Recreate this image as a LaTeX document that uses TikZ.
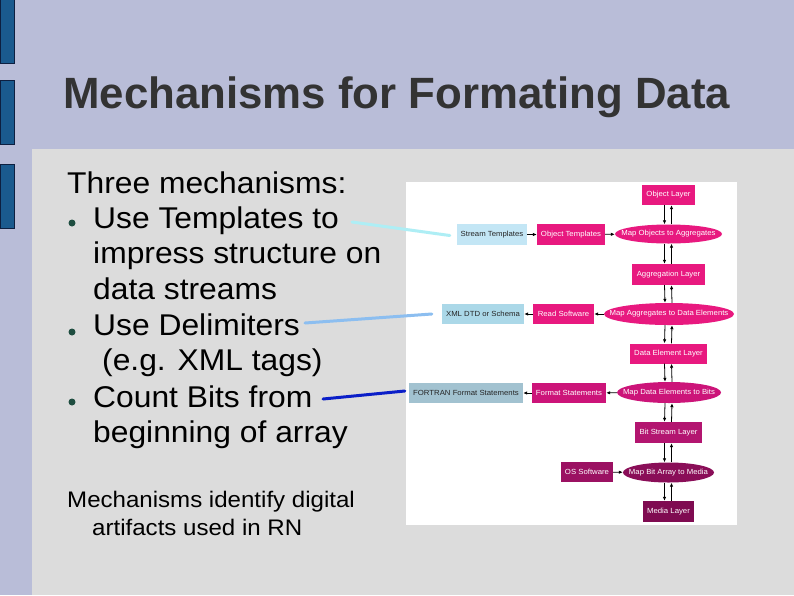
\documentclass[tikz,border=0pt]{standalone}
\usepackage{fontspec}
\setmainfont{Liberation Sans}
\newfontfamily\bodyfont[FakeStretch=1.06]{Liberation Sans}
\newfontfamily\smallfont[FakeStretch=1.07]{Liberation Sans}
\newfontfamily\diafont[FakeStretch=1.05]{Liberation Sans}
\usetikzlibrary{shapes.geometric,arrows.meta}
\definecolor{bgl}{HTML}{B9BDD8}
\definecolor{panel}{HTML}{DCDCDC}
\definecolor{barb}{HTML}{1A5A8E}
\definecolor{bard}{HTML}{0D1F40}
\definecolor{titlec}{HTML}{333333}
\definecolor{dotc}{HTML}{1E4D40}
\definecolor{pinkA}{HTML}{E8197F}
\definecolor{pinkB}{HTML}{CC1479}
\definecolor{pinkC}{HTML}{B31570}
\definecolor{pinkD}{HTML}{9B1162}
\definecolor{pinkE}{HTML}{8A0E58}
\definecolor{pinkF}{HTML}{7F0B51}
\definecolor{blueA}{HTML}{C3E6F5}
\definecolor{blueB}{HTML}{ABD8E8}
\definecolor{blueC}{HTML}{A2C2D0}
\definecolor{lnA}{HTML}{AEEEF5}
\definecolor{lnB}{HTML}{8CBEF0}
\definecolor{lnC}{HTML}{0A1EC8}
\tikzset{
  bodytext/.style={anchor=base west,inner sep=0pt,font=\bodyfont\fontsize{30}{35}\selectfont,text=black},
  smalltext/.style={anchor=base west,inner sep=0pt,font=\smallfont\fontsize{22.5}{26}\selectfont,text=black},
  bul/.style={fill=dotc,draw=none},
  dbox/.style={rectangle,inner sep=0pt,font=\diafont\fontsize{7.4}{8}\selectfont,text=white},
  dell/.style={ellipse,inner xsep=-30pt,inner ysep=0pt,font=\diafont\fontsize{7.4}{8}\selectfont,text=white},
  lbox/.style={rectangle,inner sep=0pt,font=\diafont\fontsize{7.4}{8}\selectfont,text=black!85},
  arr/.style={-{Latex[length=4pt,width=3.5pt]},line width=0.8pt,black},
  link/.style={line width=3pt,line cap=round}
}
\begin{document}
\begin{tikzpicture}[x=1pt,y=-1pt]
\useasboundingbox (0,0) rectangle (794,595);
\fill[bgl] (0,0) rectangle (794,595);
\fill[panel] (32,149) rectangle (794,595);
% left bars
\filldraw[fill=barb,draw=bard,line width=0.6pt] (0,-1) rectangle (14.5,63);
\filldraw[fill=barb,draw=bard,line width=0.6pt] (0,80) rectangle (14.5,144.5);
\filldraw[fill=barb,draw=bard,line width=0.6pt] (0,164.5) rectangle (14.5,228);
% title
\node[anchor=base west,inner sep=0pt,font=\fontsize{43.8}{50}\selectfont\bfseries,text=titlec] (title) at (63,108) {Mechanisms for Formating Data};
% body text
\node[bodytext] (l0) at (67,193) {Three mechanisms:};
\fill[bul] (72,223) circle (3.5);
\node[bodytext] (t1) at (93,228) {Use Templates to};
\node[bodytext] (t1b) at (93,263) {impress structure on};
\node[bodytext] (t1c) at (93,299) {data streams};
\fill[bul] (72,332) circle (3.5);
\node[bodytext] (t2) at (93,335) {Use Delimiters};
\node[bodytext] (t2b) at (102,370) {(e.g. XML tags)};
\fill[bul] (72,402) circle (3.5);
\node[bodytext] (t3) at (93,407) {Count Bits from};
\node[bodytext] (t3b) at (93,442) {beginning of array};
\node[smalltext] (s1) at (67,507) {Mechanisms identify digital};
\node[smalltext] (s2) at (92,535) {artifacts used in RN};
% white image
\fill[white] (406,182) rectangle (737,525);
% diagram nodes
\node[dbox,fill=pinkA,minimum width=53,minimum height=20] (objL) at (668.5,195) {Object Layer};
\node[lbox,fill=blueA,minimum width=70,minimum height=21] (stT) at (492,234.5) {Stream Templates};
\node[dbox,fill=pinkA,minimum width=68,minimum height=21] (objT) at (571,234.5) {Object Templates};
\node[dell,fill=pinkA,minimum width=107,minimum height=19] (mapOA) at (668.5,234) {Map Objects to Aggregates};
\node[dbox,fill=pinkA,minimum width=73,minimum height=21] (aggL) at (668.5,274.5) {Aggregation Layer};
\node[lbox,fill=blueB,minimum width=82,minimum height=20] (xml) at (483,314) {XML DTD or Schema};
\node[dbox,fill=pinkA,minimum width=61,minimum height=20] (readS) at (563.5,314) {Read Software};
\node[dell,fill=pinkA,minimum width=130,minimum height=22] (mapAD) at (669,314) {Map Aggregates to Data Elements};
\node[dbox,fill=pinkA,minimum width=77,minimum height=20] (deL) at (668.5,353.5) {Data Element Layer};
\node[lbox,fill=blueC,minimum width=114,minimum height=20] (fortran) at (466,393) {FORTRAN Format Statements};
\node[dbox,fill=pinkB,minimum width=74,minimum height=20] (fmtS) at (569,393) {Format Statements};
\node[dell,fill=pinkB,minimum width=104,minimum height=21] (mapDB) at (669,392.5) {Map Data Elements to Bits};
\node[dbox,fill=pinkC,minimum width=67,minimum height=21] (bsL) at (668.5,432.5) {Bit Stream Layer};
\node[dbox,fill=pinkD,minimum width=52,minimum height=20] (osS) at (587,472) {OS Software};
\node[dell,fill=pinkE,minimum width=91,minimum height=20] (mapBM) at (668.5,472.5) {Map Bit Array to Media};
\node[dbox,fill=pinkF,minimum width=51,minimum height=21] (mediaL) at (668.5,511.5) {Media Layer};
% vertical arrow pairs
\foreach \a/\b in {objL/mapOA,mapOA/aggL,aggL/mapAD,mapAD/deL,deL/mapDB,mapDB/bsL,bsL/mapBM,mapBM/mediaL}{
  \draw[arr] ([xshift=-4pt]\a.south) -- ([xshift=-4pt]\b.north);
  \draw[arr] ([xshift=3pt]\b.north) -- ([xshift=3pt]\a.south);
}
% horizontal arrows
\draw[arr] (stT) -- (objT);
\draw[arr] (objT) -- (mapOA);
\draw[arr] (mapAD) -- (readS);
\draw[arr] (readS) -- (xml);
\draw[arr] (mapDB) -- (fmtS);
\draw[arr] (fmtS) -- (fortran);
\draw[arr] (osS) -- (mapBM);
% connectors from text
\coordinate (c1) at (352,222);
\coordinate (c2) at (305,323);
\coordinate (c3) at (323,399);
\draw[link,lnA] (c1) -- ([xshift=-7pt,yshift=-1pt]stT.west);
\draw[link,lnB] (c2) -- ([xshift=-10pt]xml.west);
\draw[link,lnC] (c3) -- ([xshift=-4pt,yshift=2pt]fortran.west);
\end{tikzpicture}
\end{document}
